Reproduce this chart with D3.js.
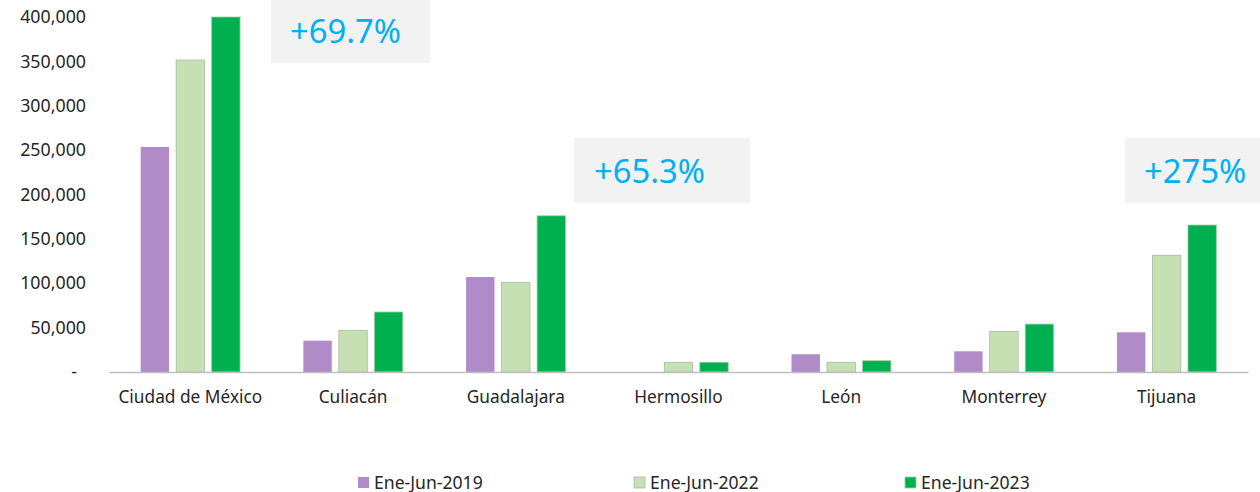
<!DOCTYPE html>
<html>
<head>
<meta charset="utf-8">
<script src="https://cdnjs.cloudflare.com/ajax/libs/d3/7.8.5/d3.min.js"></script>
<style>
  body { margin: 0; background: #fff; }
  svg text { font-family: "Noto Sans", sans-serif; fill: #262626; }
</style>
</head>
<body>
<script>

// data
var cities = ["Ciudad de México", "Culiacán", "Guadalajara", "Hermosillo", "León", "Monterrey", "Tijuana"]
var seriesNames = ["Ene-Jun-2019", "Ene-Jun-2022", "Ene-Jun-2023"]
var v2019 = [253500, 35300, 107000, 0, 20000, 23300, 44700]
var v2022 = [351500, 47000, 101000, 11000, 11000, 45800, 131500]
var v2023 = [400000, 67600, 176000, 11000, 12700, 54000, 165600]
var yTicks = [0, 50000, 100000, 150000, 200000, 250000, 300000, 350000, 400000]
var growthLabels = ["+69.7%", "+65.3%", "+275%"]

var colors = ["#b08bc8", "#c6e0b4", "#00b050"]
var strokes = ["none", "#a9b9a0", "#9ccf9f"]

var w = 1260, h = 492

var svg = d3.select("body").append("svg")
    .attr("width", w)
    .attr("height", h)

var x0 = d3.scaleBand()
    .domain(cities)
    .range([109, 1248])
    .padding(0)

var x1 = d3.scaleBand()
    .domain(seriesNames)
    .range([-49.7, 49.7])
    .paddingInner(0.2)

var y = d3.scaleLinear()
    .domain([0, 400000])
    .range([372, 17])

var fmt = d3.format(",")

// y axis (labels only)
var yAxis = svg.append("g")
    .attr("transform", "translate(86,0)")
    .call(d3.axisLeft(y).tickValues(yTicks).tickSize(0).tickPadding(0)
        .tickFormat(function(d){ return d === 0 ? "-" : fmt(d) }))
yAxis.select(".domain").remove()
yAxis.selectAll("text")
    .style("font-size", "17.8px")
    .style("font-family", "Noto Sans")
    .attr("fill", "#262626")
    .attr("dx", function(d){ return d === 0 ? -9 : 0 })

// bars
var rows = cities.map(function(c, i){
    return { city: c, vals: [v2019[i], v2022[i], v2023[i]] }
})

var groups = svg.selectAll("g.city")
    .data(rows)
    .enter()
    .append("g")
    .attr("class", "city")
    .attr("transform", function(d){
        return "translate(" + (x0(d.city) + x0.bandwidth() / 2) + ",0)"
    })

groups.selectAll("rect")
    .data(function(d){ return d.vals.map(function(v, k){ return { s: seriesNames[k], k: k, v: v } }) })
    .enter()
    .append("rect")
    .filter(function(d){ return d.v > 0 })
    .attr("x", function(d){ return x1(d.s) })
    .attr("width", x1.bandwidth())
    .attr("y", function(d){ return y(d.v) })
    .attr("height", function(d){ return y(0) - y(d.v) })
    .style("fill", function(d){ return colors[d.k] })
    .style("stroke", function(d){ return strokes[d.k] })
    .style("stroke-width", 0.8)

// x axis
var xAxis = svg.append("g")
    .attr("transform", "translate(0," + y(0) + ")")
    .call(d3.axisBottom(x0).tickSize(0).tickPadding(0))
xAxis.select(".domain")
    .attr("stroke", "#bfbfbf")
    .attr("stroke-width", 1.5)
xAxis.selectAll("text")
    .attr("y", 31)
    .attr("dy", 0)
    .style("font-size", "17.3px")
    .style("font-family", "Noto Sans")
    .attr("fill", "#262626")

// growth call-outs
var boxes = [
    { x: 271, y: -2, w: 159, h: 65 },
    { x: 574, y: 138, w: 176, h: 65 },
    { x: 1125, y: 138, w: 140, h: 65 }
]
var textPos = [290, 594, 1144]

boxes.forEach(function(b, i){
    svg.append("rect")
        .attr("x", b.x).attr("y", b.y)
        .attr("width", b.w).attr("height", b.h)
        .style("fill", "#f2f2f2")
    svg.append("text")
        .attr("x", textPos[i])
        .attr("y", b.y + 45)
        .text(growthLabels[i])
        .style("font-size", "32.8px")
        .style("fill", "#00b0f0")
})

// legend
var legendX = [358, 634, 905]
var legend = svg.selectAll("g.legend")
    .data(seriesNames)
    .enter()
    .append("g")
    .attr("class", "legend")
    .attr("transform", function(d, i){ return "translate(" + legendX[i] + ",477)" })

legend.append("rect")
    .attr("width", 11)
    .attr("height", 11)
    .style("fill", function(d, i){ return colors[i] })
    .style("stroke", function(d, i){ return strokes[i] })
    .style("stroke-width", 0.8)

legend.append("text")
    .attr("x", 16)
    .attr("y", 11.5)
    .text(function(d){ return d })
    .style("font-size", "17.6px")

</script>
</body>
</html>
